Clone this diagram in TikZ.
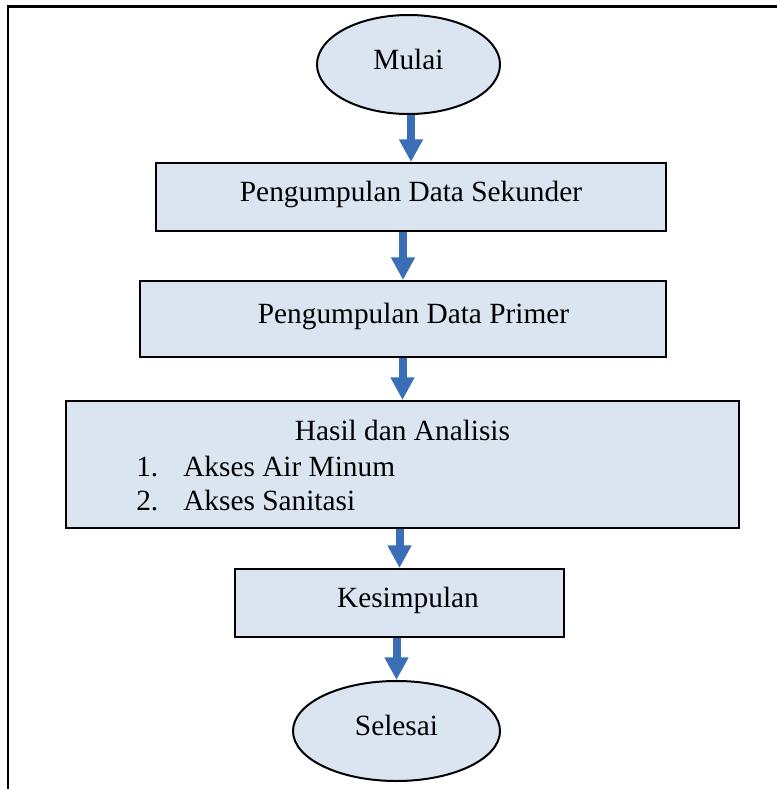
\documentclass[tikz,border=0pt]{standalone}
\usepackage{fontspec}
\setmainfont{Liberation Serif}
\usetikzlibrary{shapes.geometric, arrows.meta}
\definecolor{isibiru}{RGB}{219,229,241}
\definecolor{panahbiru}{RGB}{58,111,183}

\begin{document}
\begin{tikzpicture}[
		x=0.75pt, y=-0.75pt,
		panah/.style={
			line width=6pt,
			draw=panahbiru,
			-{Triangle[width=17pt, length=17pt]}
		},
		bingkai/.style={line width=1.6pt}
	]
	\tikzstyle{Teks} = [
		font=\fontsize{22}{26}\selectfont,
		inner sep=0pt
	]
	\tikzstyle{Dasar} = [ %tampilan dasar semua bentuk
		text centered,
		draw=black,
		line width=1.5pt,
		fill=isibiru,
		font=\fontsize{22}{26}\selectfont,
		text height=15pt,
		text depth=8pt
	]
	\tikzstyle{Kotak} = [
		rectangle,
		Dasar
	]
	\tikzstyle{Elips} = [
		ellipse,
		inner sep=0pt,
		Dasar
	]

	\useasboundingbox (0,0) rectangle (777,789);
	\draw[bingkai] (777,6.5) -- (8.3,6.5) -- (8.3,789);

	\node (mulai) [Elips, minimum width=137.25pt, minimum height=74.25pt] at (408.5,64.5) {Mulai};
	\node (sekunder) [Kotak, minimum width=382.5pt, minimum height=51pt] at (411,197) {Pengumpulan Data Sekunder};
	\node (primer) [Kotak, minimum width=394.5pt, minimum height=57pt] at (403,319) {\hspace*{15.75pt}Pengumpulan Data Primer};
	\node (hasil) [Kotak, minimum width=504.75pt, minimum height=95.25pt] at (402.5,464.5) {};
	\node (judul) [Teks, anchor=base] at (402.5,440) {Hasil dan Analisis};
	\node (butir) [Teks, anchor=base west] at (136,476) {%
		\begin{tabular}[t]{@{}p{35.25pt}@{}l@{}}
			1. & Akses Air Minum\\
			2. & Akses Sanitasi
		\end{tabular}};
	\node (kesimpulan) [Kotak, minimum width=246.75pt, minimum height=51pt] at (399.5,603) {\hspace*{12.75pt}Kesimpulan};
	\node (selesai) [Elips, minimum width=155.25pt, minimum height=75pt] at (396.5,731) {Selesai};

	\draw[panah] (mulai.south -| sekunder.north) -- (sekunder.north);
	\draw[panah] (sekunder.south -| primer.north) -- (primer.north);
	\draw[panah] (primer.south -| hasil.north) -- (hasil.north);
	\draw[panah] (hasil.south -| kesimpulan.north) -- (kesimpulan.north);
	\draw[panah] (kesimpulan.south -| selesai.north) -- (selesai.north);
\end{tikzpicture}
\end{document}
